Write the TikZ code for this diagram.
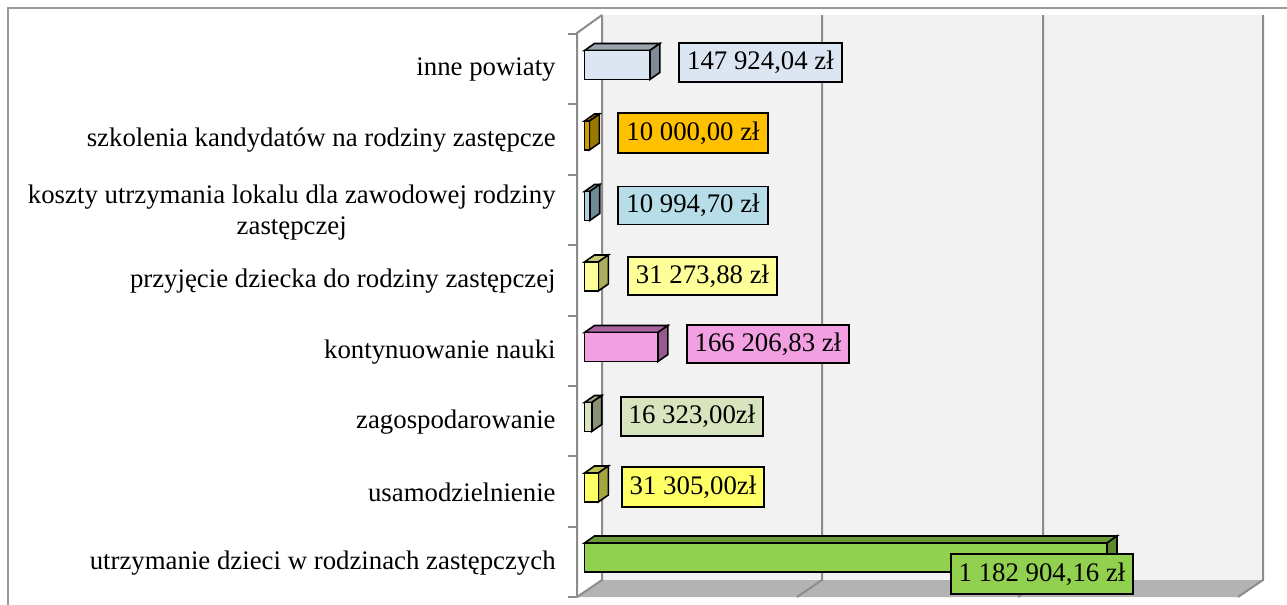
\documentclass[tikz,border=0pt]{standalone}
\usepackage{fontspec}
\setmainfont{Liberation Serif}
\definecolor{wallc}{HTML}{F2F2F2}
\definecolor{floorc}{HTML}{B3B3B3}
\definecolor{gridc}{HTML}{8C8C8C}
\definecolor{framec}{HTML}{999999}
\definecolor{cAf}{HTML}{DCE6F2}\definecolor{cAt}{HTML}{9AA4AE}\definecolor{cAs}{HTML}{7F8A94}
\definecolor{cBl}{HTML}{FFC000}\definecolor{cBf}{HTML}{CC9C00}\definecolor{cBt}{HTML}{B08800}\definecolor{cBs}{HTML}{9A7800}
\definecolor{cCl}{HTML}{B7DEE8}\definecolor{cCf}{HTML}{A9D2DE}\definecolor{cCt}{HTML}{86A6B0}\definecolor{cCs}{HTML}{6F8C94}
\definecolor{cDf}{HTML}{FFFF99}\definecolor{cDt}{HTML}{C8C878}\definecolor{cDs}{HTML}{ADAD5E}
\definecolor{cEf}{HTML}{F2A0E2}\definecolor{cEt}{HTML}{AA64A0}\definecolor{cEs}{HTML}{9A5890}
\definecolor{cFf}{HTML}{D7E4BD}\definecolor{cFt}{HTML}{A2AA8A}\definecolor{cFs}{HTML}{8A9274}
\definecolor{cGf}{HTML}{FFFF66}\definecolor{cGt}{HTML}{BFBF50}\definecolor{cGs}{HTML}{A6A640}
\definecolor{cHf}{HTML}{92D050}\definecolor{cHt}{HTML}{6A9A3A}\definecolor{cHs}{HTML}{5C8830}
\newcommand\tdbar[5]{%
  \pgfmathsetmacro\xe{584.5+#2}%
  \filldraw[barline, fill=#4] (584.5,#1-19.5) -- (594.5,#1-26.5) -- (\xe+10,#1-26.5) -- (\xe,#1-19.5) -- cycle;
  \filldraw[barline, fill=#5] (\xe,#1-19.5) -- (\xe+10,#1-26.5) -- (\xe+10,#1+2.5) -- (\xe,#1+9.5) -- cycle;
  \filldraw[barline, fill=#3] (584.5,#1-19.5) rectangle (\xe,#1+9.5);
}
\tikzset{
  barline/.style={draw=black, line width=0.8pt, line join=miter},
  valbox/.style={draw=black, line width=0.8pt, inner sep=0pt, align=center},
  catlabel/.style={anchor=east, align=center, inner sep=0pt},
  gline/.style={draw=gridc, line width=1pt},
}
\begin{document}
\begin{tikzpicture}[x=0.5pt, y=-0.5pt, font=\fontsize{13.4}{15.5}\selectfont]
\useasboundingbox (0,0) rectangle (1287,605);
\fill[white] (0,0) rectangle (1287,605);
% outer frame
\draw[framec, line width=0.75pt] (1287,8) -- (8,8) -- (8,605);
% back wall
\fill[wallc] (602,15) rectangle (1263,580);
% floor
\fill[floorc] (577,597) -- (602,580) -- (1263,580) -- (1238,597) -- cycle;
% grid lines
\foreach \gx/\fx in {602/577, 822/797, 1043/1018, 1263/1238} {
  \draw[gline] (\gx,15) -- (\gx,580) -- (\fx,597);
}
% side wall top edge and front axis
\draw[gline] (602,15) -- (577,33) -- (577,597);
\foreach \i in {0,...,8} {
  \draw[gline] (568,{34+70.375*\i}) -- (577,{34+70.375*\i});
}
% bars
\tdbar{70}{65.34}{cAf}{cAt}{cAs}
\tdbar{140.5}{4.9}{cBf}{cBt}{cBs}
\tdbar{211}{5.2}{cCf}{cCt}{cCs}
\tdbar{281.5}{13.81}{cDf}{cDt}{cDs}
\tdbar{352}{73.41}{cEf}{cEt}{cEs}
\tdbar{422}{7.21}{cFf}{cFt}{cFs}
\tdbar{492.5}{13.83}{cGf}{cGt}{cGs}
\tdbar{562.5}{522.5}{cHf}{cHt}{cHs}
% value labels
\node[valbox, fill=cAf, minimum width=81.5pt, minimum height=19.5pt] (vA) at (760.5,62.5) {147 924,04 zł};
\node[valbox, fill=cBl, minimum width=75pt, minimum height=20pt] (vB) at (693,133) {10 000,00 zł};
\node[valbox, fill=cCl, minimum width=75pt, minimum height=19pt] (vC) at (693,205.5) {10 994,70 zł};
\node[valbox, fill=cDf, minimum width=74.5pt, minimum height=19pt] (vD) at (702.5,276) {31 273,88 zł};
\node[valbox, fill=cEf, minimum width=81pt, minimum height=19pt] (vE) at (768,344) {166 206,83 zł};
\node[valbox, fill=cFf, minimum width=71pt, minimum height=19.5pt] (vF) at (692,416.5) {16 323,00zł};
\node[valbox, fill=cGf, minimum width=71pt, minimum height=20pt] (vG) at (693,487) {31 305,00zł};
\node[valbox, fill=cHf, minimum width=91pt, minimum height=20pt] (vH) at (1042,574) {1 182 904,16 zł};
% category labels
\node[catlabel] (lA) at (556,70) {inne powiaty};
\node[catlabel] (lB) at (556,140.5) {szkolenia kandydatów na rodziny zastępcze};
\node[catlabel] (lC) at (556,213) {koszty utrzymania lokalu dla zawodowej rodziny\\zastępczej};
\node[catlabel] (lD) at (556,281.5) {przyjęcie dziecka do rodziny zastępczej};
\node[catlabel] (lE) at (556,352) {kontynuowanie nauki};
\node[catlabel] (lF) at (556,422) {zagospodarowanie};
\node[catlabel] (lG) at (556,492.5) {usamodzielnienie};
\node[catlabel] (lH) at (556,563.5) {utrzymanie dzieci w rodzinach zastępczych};
\end{tikzpicture}
\end{document}
